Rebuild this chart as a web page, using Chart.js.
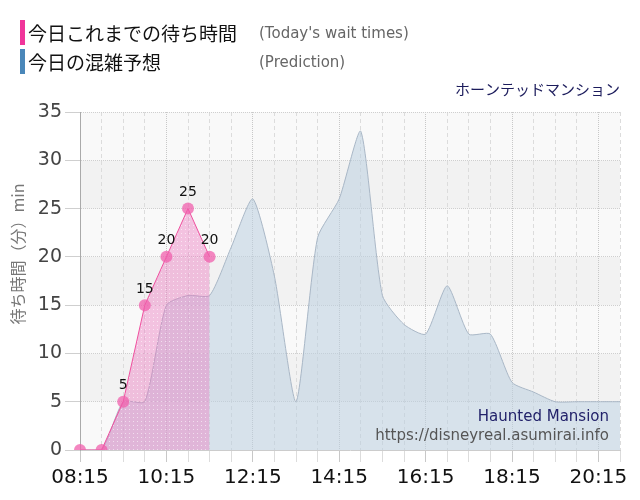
<!DOCTYPE html>
<html>
<head>
<meta charset="utf-8">
<script src="https://cdn.jsdelivr.net/npm/chart.js@4.4.1/dist/chart.umd.min.js"></script>
<style>
  body { margin: 0; background: #fff; }
  #wrap { position: relative; width: 640px; height: 500px; }
  .row { position: absolute; left: 20px; height: 25px; display: flex; align-items: center; }
  .bar { width: 5px; height: 25px; margin-right: 3px; }
  .jp { font: 19px "Noto Sans CJK JP", sans-serif; color: #111; width: 231px; }
  .en { font: 15px "DejaVu Sans", sans-serif; color: #666; }
</style>
</head>
<body>
<div id="wrap">
  <canvas id="waitChart" width="640" height="500"></canvas>
  <div class="row" style="top:20px"><div class="bar" style="background:#f0359a"></div><span class="jp">今日これまでの待ち時間</span><span class="en">(Today's wait times)</span></div>
  <div class="row" style="top:49px"><div class="bar" style="background:#4a87b9"></div><span class="jp">今日の混雑予想</span><span class="en">(Prediction)</span></div>
</div>
<script>
var times = ['08:15', '08:45', '09:15', '09:45', '10:15', '10:45', '11:15', '11:45',
             '12:15', '12:45', '13:15', '13:45', '14:15', '14:45', '15:15', '15:45',
             '16:15', '16:45', '17:15', '17:45', '18:15', '18:45', '19:15', '19:45',
             '20:15', '20:45'];
var actualWait = [0, 0, 5, 15, 20, 25, 20];
var predicted = [0, 0, 5, 5, 15, 16, 16, 21, 26, 18, 5, 22, 26, 33, 16, 13,
                 12, 17, 12, 12, 7, 6, 5, 5, 5, 5];
var labeledTimes = ['08:15', '10:15', '12:15', '14:15', '16:15', '18:15', '20:15'];
var yTicks = [0, 5, 10, 15, 20, 25, 30, 35];

var ctx = document.getElementById('waitChart').getContext('2d');

// dotted pink fill
function pinkPattern() {
    var c = document.createElement('canvas');
    c.width = 4;
    c.height = 4;
    var p = c.getContext('2d');
    p.fillStyle = 'rgba(236, 120, 190, 0.42)';
    p.fillRect(0, 0, 4, 4);
    p.fillStyle = 'rgba(255, 255, 255, 0.55)';
    p.fillRect(1, 1, 1, 1);
    return ctx.createPattern(c, 'repeat');
}

// alternating background bands
var bands = {
    id: 'bands',
    beforeDraw: function (chart) {
        var a = chart.chartArea, y = chart.scales.y, c = chart.ctx;
        c.save();
        for (var i = 0; i < yTicks.length - 1; i++) {
            var top = y.getPixelForValue(yTicks[i + 1]);
            var bot = y.getPixelForValue(yTicks[i]);
            c.fillStyle = i % 2 ? '#f2f2f2' : '#f9f9f9';
            c.fillRect(a.left, top, a.right - a.left, bot - top);
        }
        c.restore();
    }
};

// value labels, axis title and site text
var extras = {
    id: 'extras',
    afterDatasetsDraw: function (chart) {
        var c = chart.ctx, a = chart.chartArea;
        var meta = chart.getDatasetMeta(1);
        c.save();
        c.font = '14px "DejaVu Sans"';
        c.fillStyle = '#111';
        c.textAlign = 'center';
        c.textBaseline = 'middle';
        meta.data.forEach(function (pt, i) {
            if (actualWait[i] > 0) c.fillText(actualWait[i], pt.x, pt.y - 16);
        });
        c.textAlign = 'right';
        c.textBaseline = 'alphabetic';
        c.font = '15px "DejaVu Sans"';
        c.fillStyle = '#22226a';
        c.fillText('Haunted Mansion', a.right - 11, a.bottom - 29);
        c.fillStyle = '#555';
        c.fillText('https://disneyreal.asumirai.info', a.right - 11, a.bottom - 10);
        // y axis title
        c.translate(18, 254);
        c.rotate(-Math.PI / 2);
        c.textAlign = 'center';
        c.textBaseline = 'middle';
        c.font = '16px "Noto Sans CJK JP"';
        c.fillStyle = '#777';
        c.fillText('待ち時間（分）min', 0, 0);
        c.restore();
    }
};

var chart = new Chart(ctx, {
    type: 'line',
    data: {
        labels: times,
        datasets: [{
            label: '今日の混雑予想',
            data: predicted,
            borderColor: '#a9b7c6',
            borderWidth: 1,
            backgroundColor: 'rgba(188, 208, 224, 0.55)',
            fill: 'origin',
            tension: 0.2,
            pointRadius: 0,
            order: 2
        }, {
            label: '今日これまでの待ち時間',
            data: actualWait,
            borderColor: '#f0509f',
            borderWidth: 1,
            backgroundColor: pinkPattern(),
            fill: 'origin',
            tension: 0,
            pointRadius: 6,
            pointBorderWidth: 0,
            pointBackgroundColor: 'rgba(240, 95, 172, 0.75)',
            order: 1
        }]
    },
    options: {
        responsive: false,
        animation: false,
        layout: { padding: { left: 0, right: 20, bottom: 6 } },
        plugins: {
            legend: { display: false },
            tooltip: { enabled: false },
            title: {
                display: true,
                text: 'ホーンテッドマンション',
                align: 'end',
                color: '#1c1c5c',
                font: { family: '"Noto Sans CJK JP"', size: 15, weight: 'normal' },
                padding: { top: 80, bottom: 14 }
            }
        },
        scales: {
            x: {
                offset: false,
                grid: {
                    color: function (c) {
                        return labeledTimes.indexOf(times[c.index]) >= 0 ? '#c8c8c8' : '#dcdcdc';
                    },
                    tickLength: 12
                },
                border: {
                    color: '#cccccc',
                    dash: function (c) {
                        return labeledTimes.indexOf(times[c.index]) >= 0 ? [1, 1] : [4, 3];
                    }
                },
                ticks: {
                    autoSkip: false,
                    maxRotation: 0,
                    padding: 4,
                    color: '#111',
                    font: { family: '"DejaVu Sans"', size: 20 },
                    callback: function (v, i) {
                        return labeledTimes.indexOf(times[i]) >= 0 ? times[i] : '';
                    }
                }
            },
            y: {
                min: 0,
                max: 35,
                afterFit: function (s) { s.width = 80; },
                afterBuildTicks: function (s) {
                    s.ticks = yTicks.map(function (v) { return { value: v }; });
                },
                grid: { color: '#cfcfcf', tickLength: 15 },
                border: { color: '#aaaaaa', dash: [1, 1] },
                ticks: {
                    padding: 3,
                    color: '#444',
                    font: { family: '"DejaVu Sans"', size: 19 }
                }
            }
        }
    },
    plugins: [bands, extras]
});
</script>
</body>
</html>
